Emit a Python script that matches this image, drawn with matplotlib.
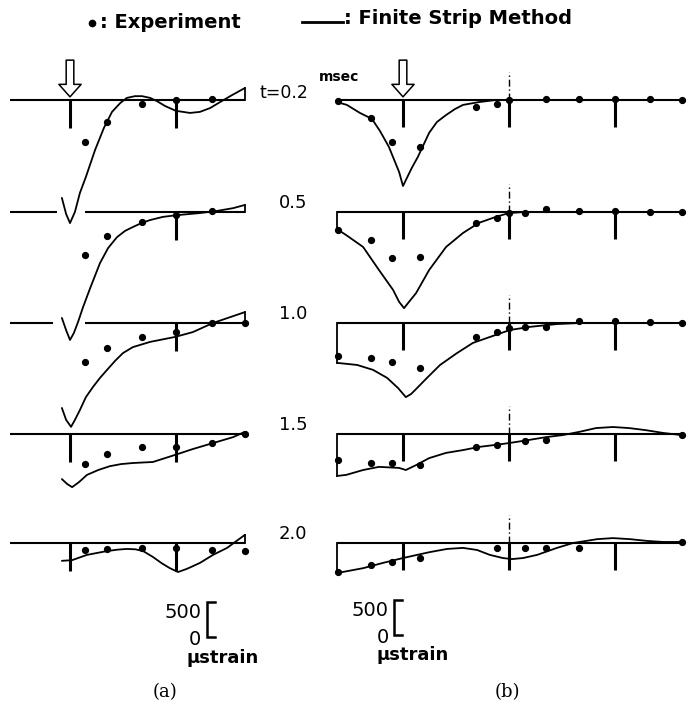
import numpy as np
import matplotlib
matplotlib.use("Agg")
import matplotlib.pyplot as plt
from matplotlib.patches import FancyArrowPatch, ArrowStyle
from matplotlib.lines import Line2D

nan = np.nan
times = ["0.2", "0.5", "1.0", "1.5", "2.0"]

# gauge positions along the plate (tick spacing = 3 units)
gauge_a = [0.42, 1.05, 2.03, 3.0, 4.03, 4.95]
gauge_b = [-1.85, -0.9, -0.3, 0.48, 2.07, 2.67, 3.0, 3.45, 4.05, 5.0, 6.0, 7.0, 7.9]
ticks_a = [0, 3]
ticks_b = [0, 3, 6]

# ---- experiment (micro strain) ----
exp_a_02 = [-600, -315, -57, 0, 14, nan]
exp_a_05 = [-615, -343, -143, -43, 14, nan]
exp_a_10 = [-560, -358, -200, -129, 0, 0]
exp_a_15 = [-430, -286, -186, -186, -129, 0]
exp_a_20 = [-100, -86, -72, -72, -100, -114]

exp_b_02 = [-15, -257, -600, -672, -100, -57, 0, nan, 14, 14, 14, 14, 0]
exp_b_05 = [-257, -400, -658, -643, -157, -86, -14, -14, 43, 14, 14, 0, 0]
exp_b_10 = [-472, -500, -557, -643, -200, -129, -72, -57, -57, 29, 29, 14, 0]
exp_b_15 = [-372, -415, -415, -443, -186, -157, nan, -100, -86, nan, nan, nan, -14]
exp_b_20 = [-415, -315, -272, -215, nan, -72, nan, -72, -72, -72, nan, nan, 14]

# ---- finite strip method (micro strain) ----
fsm_a_02_x = [-0.23, -0.11, 0.0, 0.14, 0.28, 0.45, 0.71, 0.96, 1.19, 1.42, 1.61, 1.84,
              2.04, 2.27, 2.46, 2.69, 3.0, 3.4, 3.68, 3.97, 4.25, 4.59, 4.95]
fsm_a_02_s = [-1400, -1630, -1760, -1600, -1330, -1100, -715, -400, -170, -45, 30, 55,
              55, 30, -15, -85, -155, -185, -170, -115, -30, 70, 170]
fsm_a_05_x = [-0.23, -0.11, 0.0, 0.11, 0.23, 0.37, 0.57, 0.85, 1.08, 1.33, 1.56, 1.78,
              2.04, 2.27, 2.63, 3.03, 3.68, 4.16, 4.62, 4.95]
fsm_a_05_s = [-1515, -1690, -1830, -1730, -1570, -1360, -1090, -730, -515, -360, -270, -215,
              -155, -115, -70, -45, -15, 15, 55, 100]
fsm_a_10_x = [-0.23, -0.11, 0.03, 0.14, 0.28, 0.45, 0.65, 0.85, 1.05, 1.28, 1.5, 1.78,
              2.27, 2.97, 3.48, 4.05, 4.95]
fsm_a_10_s = [-1215, -1385, -1485, -1385, -1245, -1060, -915, -785, -670, -540, -430, -345,
              -270, -200, -130, 0, 155]
fsm_a_15_x = [-0.23, -0.08, 0.06, 0.25, 0.48, 0.8, 1.13, 1.45, 1.78, 2.35, 2.97, 3.48,
              4.05, 4.62, 4.95]
fsm_a_15_s = [-645, -715, -760, -690, -585, -515, -460, -430, -415, -400, -300, -215,
              -130, -45, 30]
fsm_a_20_x = [-0.23, 0.06, 0.48, 1.05, 1.35, 1.61, 1.85, 2.07, 2.35, 2.6, 2.83, 3.06,
              3.31, 3.68, 4.05, 4.45, 4.95]
fsm_a_20_s = [-255, -245, -170, -115, -95, -85, -90, -115, -200, -290, -360, -415,
              -370, -285, -170, -70, 115]

fsm_b_02_x = [-1.87, -1.59, -1.22, -0.88, -0.65, -0.40, -0.11, 0.0, 0.11, 0.25, 0.42,
              0.74, 0.96, 1.22, 1.47, 1.7, 2.15, 2.63]
fsm_b_02_s = [-30, -70, -185, -270, -445, -670, -1030, -1230, -1115, -970, -815,
              -470, -315, -215, -130, -70, -30, 0]
fsm_b_05_x = [-1.87, -1.61, -1.13, -0.68, -0.28, -0.11, 0.03, 0.17, 0.37, 0.74, 1.22,
              1.7, 2.15, 2.63, 3.0, 3.46]
fsm_b_05_s = [-245, -330, -500, -830, -1115, -1285, -1375, -1285, -1160, -830, -500,
              -300, -155, -70, -15, 0]
fsm_b_10_x = [-1.87, -1.3, -0.85, -0.45, -0.14, 0.08, 0.23, 0.34, 0.68, 1.05, 1.53,
              1.98, 2.46, 3.03, 3.6, 4.36, 5.01]
fsm_b_10_s = [-570, -600, -670, -785, -930, -1060, -1015, -960, -785, -600, -430,
              -285, -200, -100, -55, -15, 0]
fsm_b_15_x = [-1.87, -1.61, -1.13, -0.68, -0.11, 0.08, 0.37, 0.74, 1.22, 1.7, 2.15,
              2.63, 3.0, 3.57, 4.05, 4.53, 4.99, 5.47, 5.95, 6.4, 6.88, 7.37, 7.88]
fsm_b_15_s = [-600, -585, -515, -470, -485, -515, -445, -345, -270, -230, -185,
              -155, -130, -85, -45, -15, 30, 85, 100, 85, 55, 15, -15]
fsm_b_20_x = [-1.87, -1.13, -0.57, 0.0, 0.4, 0.76, 1.25, 1.7, 2.1, 2.46, 2.83, 3.09,
              3.4, 3.8, 4.36, 4.82, 5.5, 5.95, 6.43, 6.91, 7.37, 7.85]
fsm_b_20_s = [-430, -360, -285, -215, -170, -130, -85, -70, -100, -170, -215, -230,
              -215, -170, -70, 0, 55, 70, 55, 30, 15, 15]

scale_value = 500

# ---------------- layout ----------------
W, H = 692, 706
PPU = 35.3      # pixels per position unit
MPP = 14.3      # microstrain per pixel
row_base_px = [100, 212, 323, 434, 543]
YLIM = (-2000, 650)
XLIM_A = (-1.95, 5.3)
XLIM_B = (-2.0, 8.15)
TICK0_A, TICK0_B = 70, 403

fig = plt.figure(figsize=(W / 100, H / 100), dpi=100)


def fx(px):
    return px / W


def fy(py):
    return 1 - py / H


def make_axes(tick0, xlim, base):
    left = tick0 + xlim[0] * PPU
    width = (xlim[1] - xlim[0]) * PPU
    top = base - YLIM[1] / MPP
    height = (YLIM[1] - YLIM[0]) / MPP
    ax = fig.add_axes([left / W, 1 - (top + height) / H, width / W, height / H])
    ax.set_xlim(*xlim)
    ax.set_ylim(*YLIM)
    ax.set_axis_off()
    ax.patch.set_alpha(0)
    return ax


fsm_a = [(fsm_a_02_x, fsm_a_02_s), (fsm_a_05_x, fsm_a_05_s), (fsm_a_10_x, fsm_a_10_s),
         (fsm_a_15_x, fsm_a_15_s), (fsm_a_20_x, fsm_a_20_s)]
fsm_b = [(fsm_b_02_x, fsm_b_02_s), (fsm_b_05_x, fsm_b_05_s), (fsm_b_10_x, fsm_b_10_s),
         (fsm_b_15_x, fsm_b_15_s), (fsm_b_20_x, fsm_b_20_s)]
exp_a = [exp_a_02, exp_a_05, exp_a_10, exp_a_15, exp_a_20]
exp_b = [exp_b_02, exp_b_05, exp_b_10, exp_b_15, exp_b_20]
gap_a = [None, (-0.37, 0.42), (-0.48, 0.42), None, None]

LW_BASE, LW_CURVE, LW_TICK, MS = 1.5, 1.3, 2.2, 4.2
curve_kw = dict(color="k", lw=LW_CURVE, clip_on=False, zorder=3,
                solid_joinstyle="round", solid_capstyle="round")

axes_a, axes_b = [], []
for i, base in enumerate(row_base_px):
    # ----- panel (a) -----
    ax = make_axes(TICK0_A, XLIM_A, base)
    axes_a.append(ax)
    if gap_a[i] is None:
        ax.plot([-1.7, 4.95], [0, 0], color="k", lw=LW_BASE, solid_capstyle="butt")
        ax.vlines(ticks_a, -400, 0, color="k", lw=LW_TICK)
    else:
        ax.plot([-1.7, gap_a[i][0]], [0, 0], color="k", lw=LW_BASE, solid_capstyle="butt")
        ax.plot([gap_a[i][1], 4.95], [0, 0], color="k", lw=LW_BASE, solid_capstyle="butt")
        ax.vlines(ticks_a[1:], -400, 0, color="k", lw=LW_TICK)
    cx, cs = fsm_a[i]
    ax.plot(cx, cs, **curve_kw)
    ax.plot([cx[-1], cx[-1]], [0, cs[-1]], color="k", lw=LW_CURVE, clip_on=False)
    ax.plot(gauge_a, exp_a[i], "o", color="k", ms=MS, clip_on=False, zorder=4)

    # ----- panel (b) -----
    bx = make_axes(TICK0_B, XLIM_B, base)
    axes_b.append(bx)
    bx.plot([-1.87, 7.9], [0, 0], color="k", lw=LW_BASE, solid_capstyle="butt")
    bx.vlines(ticks_b, -390, 0, color="k", lw=LW_TICK)
    bx.plot([3, 3], [0, 400], color="k", lw=1.0, ls=(0, (5, 2, 1, 2)))
    cx, cs = fsm_b[i]
    bx.plot(cx, cs, **curve_kw)
    bx.plot([cx[0], cx[0]], [0, cs[0]], color="k", lw=LW_CURVE, clip_on=False)
    bx.plot(gauge_b, exp_b[i], "o", color="k", ms=MS, clip_on=False, zorder=4)

# load arrows
for ax in (axes_a[0], axes_b[0]):
    arr = FancyArrowPatch((0, 570), (0, 45),
                          arrowstyle=ArrowStyle.Simple(head_length=0.9, head_width=1.6,
                                                       tail_width=0.55),
                          mutation_scale=10, fc="white", ec="k", lw=1.1,
                          shrinkA=0, shrinkB=0, clip_on=False, zorder=5)
    ax.add_patch(arr)

# scale bars (500 microstrain)
for ax, xb, yb in ((axes_a[4], 3.88, -1345), (axes_b[4], -0.25, -1315)):
    ax.plot([xb + 0.22, xb, xb, xb + 0.22], [yb + scale_value, yb + scale_value, yb, yb],
            color="k", lw=1.8, clip_on=False, solid_joinstyle="miter")

# ---------------- texts ----------------
fig.add_artist(Line2D([fx(92)], [fy(23)], marker="o", ms=4.5, color="k"))
fig.text(fx(100), fy(28), ": Experiment", fontsize=14, weight="bold", va="baseline")
fig.add_artist(Line2D([fx(302), fx(343)], [fy(22), fy(22)], lw=2, color="k"))
fig.text(fx(344), fy(24), ": Finite Strip Method", fontsize=14, weight="bold", va="baseline")

fig.text(fx(260), fy(98), "t=0.2", fontsize=12.5, va="baseline")
fig.text(fx(319), fy(81), "msec", fontsize=10, weight="bold", va="baseline")
for t, base in zip(times[1:], row_base_px[1:]):
    fig.text(fx(279), fy(base - 4), t, fontsize=13, va="baseline")

fig.text(fx(201), fy(618), "500", fontsize=14, ha="right", va="baseline")
fig.text(fx(201), fy(645), "0", fontsize=14, ha="right", va="baseline")
fig.text(fx(186), fy(663), "\u03bcstrain", fontsize=13, weight="bold", va="baseline")
fig.text(fx(389), fy(616), "500", fontsize=14, ha="right", va="baseline")
fig.text(fx(389), fy(643), "0", fontsize=14, ha="right", va="baseline")
fig.text(fx(377), fy(660), "\u03bcstrain", fontsize=13, weight="bold", va="baseline")

fig.text(fx(165), fy(697), "(a)", fontsize=13, family="DejaVu Serif", ha="center", va="baseline")
fig.text(fx(507), fy(697), "(b)", fontsize=13, family="DejaVu Serif", ha="center", va="baseline")

fig.savefig("out.png", dpi=100, facecolor="white")
